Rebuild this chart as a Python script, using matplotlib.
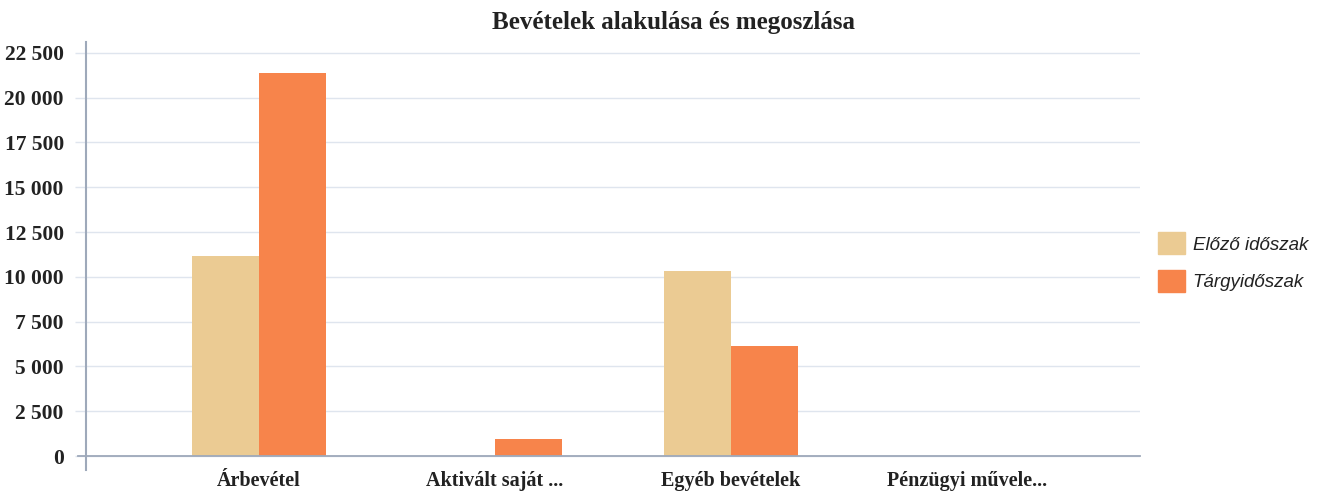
import numpy as np
import matplotlib
matplotlib.use("Agg")
import matplotlib.pyplot as plt
from matplotlib.ticker import FuncFormatter
from matplotlib.patches import Patch

categories = ["Árbevétel", "Aktivált saját ...", "Egyéb bevételek", "Pénzügyi művele..."]
elozo = [11150, 0, 10300, 0]
targy = [21400, 950, 6150, 0]
series_names = ["Előző időszak", "Tárgyidőszak"]
y_ticks = [0, 2500, 5000, 7500, 10000, 12500, 15000, 17500, 20000, 22500]

C_ELOZO = "#ebcb93"
C_TARGY = "#f7844b"
GRID = "#dfe5ee"
SPINE = "#9ea9ba"

W, H = 1318, 495
fig = plt.figure(figsize=(W / 100, H / 100), dpi=100)
ax = fig.add_axes([86 / W, 1 - 470 / H, (1140 - 86) / W, (470 - 42) / H])

x = np.arange(len(categories))
bw = 0.284
ax.bar(x - bw / 2, elozo, bw, color=C_ELOZO, zorder=3)
ax.bar(x + bw / 2, targy, bw, color=C_TARGY, zorder=3)

per_px = 2500 / 44.8
ax.set_xlim(-0.733, 3.733)
ax.set_ylim(-14 * per_px, (456 - 42) * per_px)

ax.set_yticks(y_ticks)
ax.yaxis.set_major_formatter(FuncFormatter(lambda v, p: f"{int(v):,}".replace(",", " ")))
ax.tick_params(axis="y", length=8, width=1, color=GRID, pad=8)
ax.grid(axis="y", color=GRID, linewidth=1, zorder=0)
ax.axhline(0, xmin=-8 / 1054, xmax=1, color=SPINE, linewidth=1.3, zorder=4, clip_on=False)

ax.set_xticks(x)
ax.set_xticklabels(categories)
ax.tick_params(axis="x", length=0, pad=1)

for lab in ax.get_yticklabels():
    lab.set_fontsize(15.5)
for lab in ax.get_xticklabels():
    lab.set_fontsize(14.5)
for lab in ax.get_yticklabels() + ax.get_xticklabels():
    lab.set_fontfamily("Liberation Serif")
    lab.set_fontweight("bold")
    lab.set_color("#222222")

for s in ["top", "right", "bottom"]:
    ax.spines[s].set_visible(False)
ax.spines["left"].set_color(SPINE)
ax.spines["left"].set_linewidth(1.5)

fig.text(673 / W, 1 - 22 / H, "Bevételek alakulása és megoszlása", ha="center", va="center",
         fontfamily="Liberation Serif", fontweight="bold", fontsize=18, color="#222222")

handles = [Patch(color=C_ELOZO), Patch(color=C_TARGY)]
leg = fig.legend(handles, series_names, loc="center left", bbox_to_anchor=(1158 / W, 1 - 262 / H),
                 frameon=False, borderaxespad=0, borderpad=0,
                 handlelength=1.45, handleheight=1.45, handletextpad=0.4,
                 labelspacing=0.8, prop={"family": "Liberation Sans", "style": "italic", "size": 13.5})
for t in leg.get_texts():
    t.set_color("#222222")

fig.savefig("out.png", dpi=100)
